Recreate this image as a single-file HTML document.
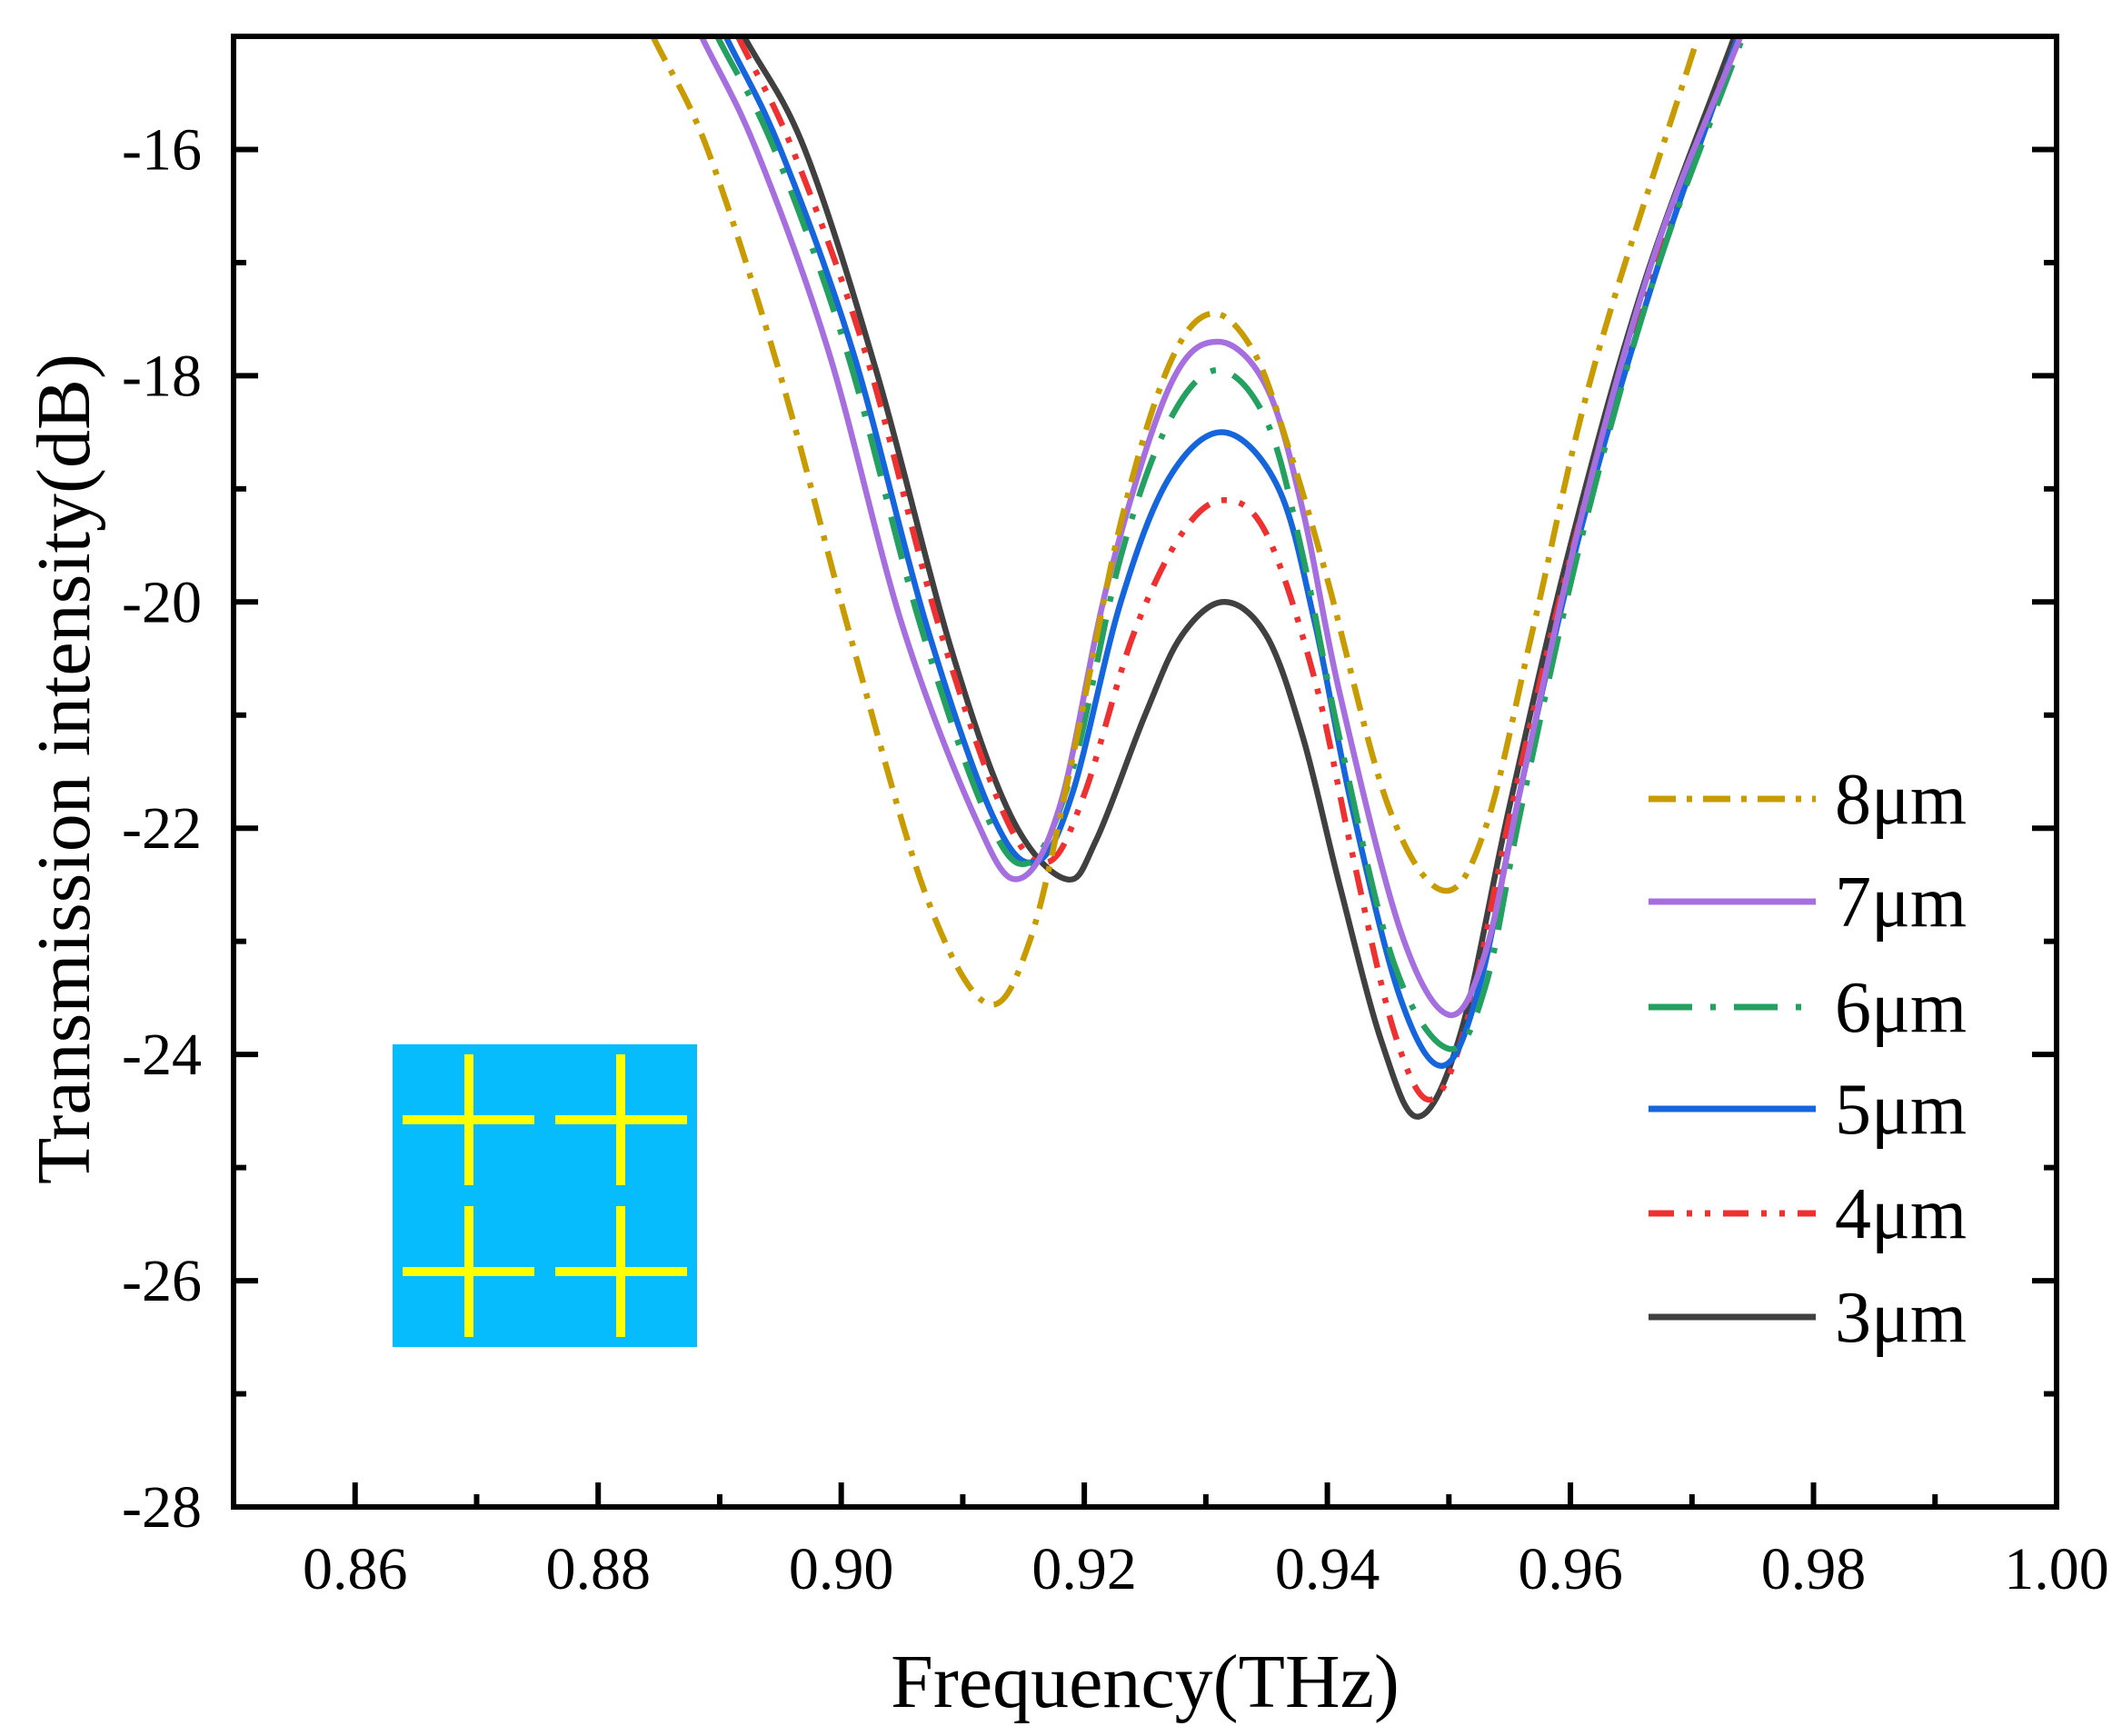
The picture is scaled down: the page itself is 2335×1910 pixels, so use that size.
<!DOCTYPE html>
<html><head><meta charset="utf-8"><style>
html,body{margin:0;padding:0;background:#fff;}
svg{display:block;font-family:"Liberation Serif",serif;}
</style></head><body>
<svg id="s" width="2335" height="1910" viewBox="0 0 2335 1910" xmlns="http://www.w3.org/2000/svg">
<rect width="2335" height="1910" fill="#fff"/>
<defs><clipPath id="c"><rect x="257" y="40" width="2006" height="1618"/></clipPath></defs>
<g id="curves" clip-path="url(#c)"></g>
<rect x="432" y="1149" width="335" height="333" fill="#06BCFC"/>
<g stroke="#FFFF00" stroke-width="10">
<line x1="443" y1="1232" x2="588" y2="1232"/><line x1="516" y1="1160" x2="516" y2="1304"/>
<line x1="611" y1="1232" x2="756" y2="1232"/><line x1="683" y1="1160" x2="683" y2="1304"/>
<line x1="443" y1="1399" x2="588" y2="1399"/><line x1="516" y1="1327" x2="516" y2="1471"/>
<line x1="611" y1="1399" x2="756" y2="1399"/><line x1="683" y1="1327" x2="683" y2="1471"/>
</g>
<g id="axes"></g>
<g stroke-width="7" fill="none">
<line x1="1814" y1="879" x2="1998" y2="879" stroke="#C89B00" stroke-dasharray="30 12 6 12"/>
<line x1="1814" y1="992" x2="1998" y2="992" stroke="#A66FE0"/>
<line x1="1814" y1="1108" x2="1998" y2="1108" stroke="#24A060" stroke-dasharray="48 20 6 20"/>
<line x1="1814" y1="1220" x2="1998" y2="1220" stroke="#1565DC"/>
<line x1="1814" y1="1335" x2="1998" y2="1335" stroke="#EE3030" stroke-dasharray="28 14 6 14 6 14"/>
<line x1="1814" y1="1449" x2="1998" y2="1449" stroke="#404040"/>
</g>
<g font-size="80" fill="#000">
<text x="2019" y="906">8μm</text>
<text x="2019" y="1019">7μm</text>
<text x="2019" y="1135">6μm</text>
<text x="2019" y="1247">5μm</text>
<text x="2019" y="1362">4μm</text>
<text x="2019" y="1476">3μm</text>
</g>
<text x="1260" y="1878" font-size="84" text-anchor="middle">Frequency(THz)</text>
<text transform="translate(98,846) rotate(-90)" font-size="84" text-anchor="middle">Transmission intensity(dB)</text>
</svg>
<script>
var NS="http://www.w3.org/2000/svg";
function X(f){return 257+(f-0.85)/0.15*2006;}
function Y(d){return 40+(-15-d)/13*1618;}
var data=[
["#404040","",[[0.892,-15],[0.897,-16.0],[0.903,-18.0],[0.909,-20.4],[0.914,-21.9],[0.9185,-22.45],[0.921,-22.1],[0.925,-21.0],[0.928,-20.3],[0.9315,-20.0],[0.935,-20.3],[0.938,-21.2],[0.941,-22.5],[0.9445,-23.9],[0.9475,-24.55],[0.951,-23.8],[0.955,-21.8],[0.960,-19.5],[0.966,-17.2],[0.9735,-15]]],
["#EE3030","28 14 6 14 6 14",[[0.8915,-15],[0.896,-16.0],[0.902,-17.8],[0.908,-20.2],[0.9135,-21.9],[0.917,-22.3],[0.920,-21.7],[0.924,-20.3],[0.928,-19.4],[0.9315,-19.1],[0.935,-19.4],[0.939,-20.7],[0.942,-22.2],[0.9455,-23.8],[0.9485,-24.4],[0.9515,-23.7],[0.955,-21.9],[0.960,-19.6],[0.966,-17.3],[0.9738,-15]]],
["#1565DC","",[[0.8905,-15],[0.895,-16.0],[0.901,-17.8],[0.907,-20.2],[0.9125,-21.9],[0.916,-22.3],[0.919,-21.7],[0.923,-20.0],[0.927,-18.9],[0.9315,-18.5],[0.936,-19.0],[0.939,-20.2],[0.942,-21.8],[0.946,-23.5],[0.9495,-24.1],[0.9525,-23.4],[0.956,-21.6],[0.961,-19.3],[0.967,-17.1],[0.9738,-15]]],
["#24A060","48 20 6 20",[[0.8898,-15],[0.8945,-16.0],[0.9005,-17.8],[0.9065,-20.2],[0.912,-21.9],[0.9155,-22.3],[0.919,-21.5],[0.923,-19.6],[0.927,-18.4],[0.931,-17.95],[0.935,-18.4],[0.938,-19.6],[0.941,-21.2],[0.9455,-23.2],[0.950,-23.95],[0.953,-23.4],[0.956,-21.8],[0.961,-19.4],[0.967,-17.1],[0.9742,-15]]],
["#A66FE0","",[[0.8885,-15],[0.893,-16.0],[0.899,-17.8],[0.905,-20.2],[0.911,-21.9],[0.9145,-22.45],[0.918,-21.8],[0.922,-19.8],[0.927,-18.1],[0.931,-17.7],[0.935,-18.1],[0.938,-19.2],[0.941,-20.8],[0.946,-22.9],[0.950,-23.65],[0.953,-23.1],[0.956,-21.6],[0.961,-19.2],[0.967,-16.9],[0.974,-15]]],
["#C89B00","30 12 6 12",[[0.8845,-15],[0.889,-16.0],[0.895,-18.0],[0.901,-20.4],[0.907,-22.6],[0.912,-23.55],[0.9155,-23.0],[0.919,-21.4],[0.923,-19.3],[0.927,-17.9],[0.9305,-17.45],[0.934,-17.8],[0.937,-18.7],[0.940,-19.8],[0.945,-21.8],[0.9495,-22.55],[0.953,-22.0],[0.957,-20.2],[0.962,-17.9],[0.9705,-15]]]
];
var g=document.getElementById("curves");
data.forEach(function(c){
 var p=c[2].map(function(q){return [X(q[0]),Y(q[1])];});
 p.unshift([2*p[0][0]-p[1][0],2*p[0][1]-p[1][1]]);
 var n=p.length;p.push([2*p[n-1][0]-p[n-2][0],2*p[n-1][1]-p[n-2][1]]);
 var d="M"+p[1][0]+","+p[1][1];
 for(var i=1;i<p.length-2;i++){
  var p0=p[i-1],p1=p[i],p2=p[i+1],p3=p[i+2];
  d+=" C"+(p1[0]+(p2[0]-p0[0])/6)+","+(p1[1]+(p2[1]-p0[1])/6)+" "+(p2[0]-(p3[0]-p1[0])/6)+","+(p2[1]-(p3[1]-p1[1])/6)+" "+p2[0]+","+p2[1];
 }
 var e=document.createElementNS(NS,"path");
 e.setAttribute("d",d);e.setAttribute("fill","none");e.setAttribute("stroke",c[0]);
 e.setAttribute("stroke-width","6.5");e.setAttribute("stroke-linejoin","round");
 if(c[1])e.setAttribute("stroke-dasharray",c[1]);
 g.appendChild(e);
});
var a=document.getElementById("axes"),h="";
h+='<rect x="257" y="40" width="2006" height="1618" fill="none" stroke="#000" stroke-width="6"/>';
for(var i=0;i<=14;i++){var f=0.85+i*0.01,x=X(f),L=(i%2==1)?27:14;
 h+='<line x1="'+x+'" y1="1658" x2="'+x+'" y2="'+(1658-L)+'" stroke="#000" stroke-width="6"/>';
 if(i%2==1)h+='<text x="'+x+'" y="1748" font-size="66" text-anchor="middle">'+f.toFixed(2)+'</text>';}
h+='<text x="'+X(1.0)+'" y="1748" font-size="66" text-anchor="middle">1.00</text>';
for(var d=-15;d>=-28;d--){var y=Y(d),L=(d%2==0)?27:14;
 h+='<line x1="257" y1="'+y+'" x2="'+(257+L)+'" y2="'+y+'" stroke="#000" stroke-width="6"/>';
 h+='<line x1="2263" y1="'+y+'" x2="'+(2263-L)+'" y2="'+y+'" stroke="#000" stroke-width="6"/>';
 if(d%2==0)h+='<text x="222" y="'+(y+22)+'" font-size="66" text-anchor="end">'+d+'</text>';}
a.innerHTML=h;
</script>
</body></html>
